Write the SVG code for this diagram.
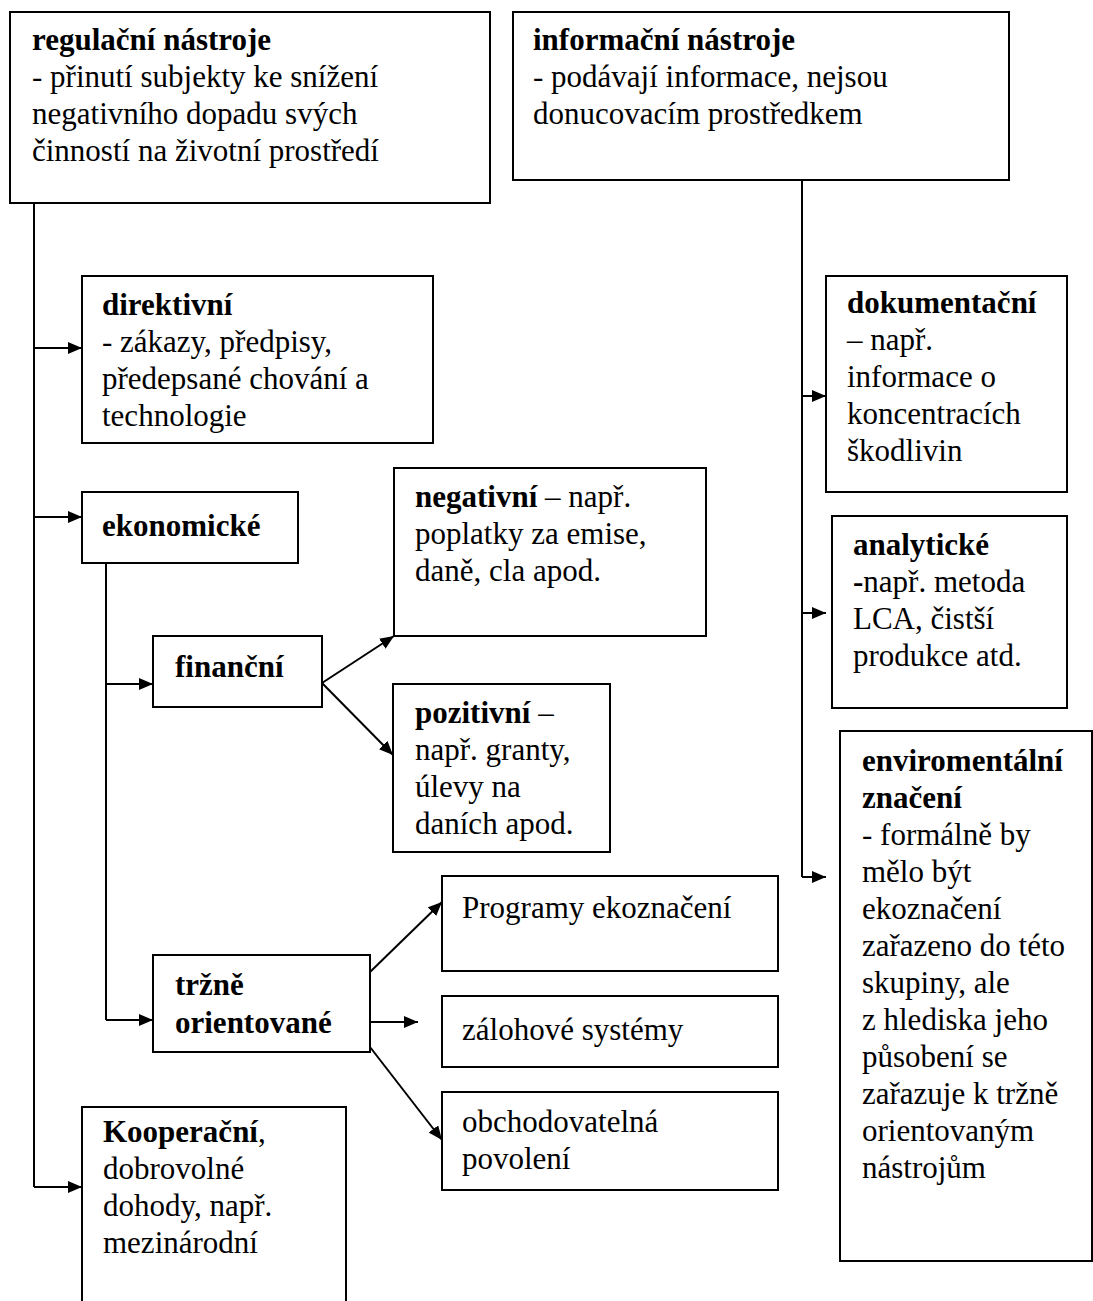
<svg xmlns="http://www.w3.org/2000/svg" width="1093" height="1301" viewBox="0 0 1093 1301">
<style>
.box{fill:#fff;stroke:#000;stroke-width:2}
.t{font-family:"Liberation Serif","Times New Roman",serif;font-size:31px;fill:#000}
.b{font-weight:bold}
.c{fill:none;stroke:#000;stroke-width:2}
</style>
<defs>
<marker id="ah" markerWidth="14" markerHeight="12" refX="14" refY="6" orient="auto" markerUnits="userSpaceOnUse"><path d="M0,0 L14,6 L0,12 z" fill="#000"/></marker>
</defs>
<rect width="1093" height="1301" fill="#fff"/>
<g id="connectors">
<path class="c" d="M34,203 V1187"/>
<path class="c" d="M34,348 H82" marker-end="url(#ah)"/>
<path class="c" d="M34,517 H82" marker-end="url(#ah)"/>
<path class="c" d="M34,1187 H82" marker-end="url(#ah)"/>
<path class="c" d="M106,563 V1020"/>
<path class="c" d="M106,684 H153" marker-end="url(#ah)"/>
<path class="c" d="M106,1020 H153" marker-end="url(#ah)"/>
<path class="c" d="M322,683 L394,636" marker-end="url(#ah)"/>
<path class="c" d="M322,683 L393,755" marker-end="url(#ah)"/>
<path class="c" d="M370,972 L442,902" marker-end="url(#ah)"/>
<path class="c" d="M370,1022 H418" marker-end="url(#ah)"/>
<path class="c" d="M370,1047 L442,1140" marker-end="url(#ah)"/>
<path class="c" d="M802,180 V877"/>
<path class="c" d="M802,396 H826" marker-end="url(#ah)"/>
<path class="c" d="M802,613 H826" marker-end="url(#ah)"/>
<path class="c" d="M802,877 H826" marker-end="url(#ah)"/>
</g>
<g id="regulacni">
<rect class="box" x="10" y="12" width="480" height="191"/>
<text class="t" x="32"><tspan class="b" y="50">regulační nástroje</tspan><tspan x="32" y="87">- přinutí subjekty ke snížení</tspan><tspan x="32" y="124">negativního dopadu svých</tspan><tspan x="32" y="161">činností na životní prostředí</tspan></text>
</g>
<g id="informacni">
<rect class="box" x="513" y="12" width="496" height="168"/>
<text class="t" x="533"><tspan class="b" y="50">informační nástroje</tspan><tspan x="533" y="87">- podávají informace, nejsou</tspan><tspan x="533" y="124">donucovacím prostředkem</tspan></text>
</g>
<g id="direktivni">
<rect class="box" x="82" y="276" width="351" height="167"/>
<text class="t" x="102"><tspan class="b" y="315">direktivní</tspan><tspan x="102" y="352">- zákazy, předpisy,</tspan><tspan x="102" y="389">předepsané chování a</tspan><tspan x="102" y="426">technologie</tspan></text>
</g>
<g id="ekonomicke">
<rect class="box" x="82" y="492" width="216" height="71"/>
<text class="t b" x="102" y="536">ekonomické</text>
</g>
<g id="financni">
<rect class="box" x="153" y="636" width="169" height="71"/>
<text class="t b" x="175" y="677">finanční</text>
</g>
<g id="negativni">
<rect class="box" x="394" y="468" width="312" height="168"/>
<text class="t" x="415"><tspan y="507"><tspan class="b">negativní</tspan> – např.</tspan><tspan x="415" y="544">poplatky za emise,</tspan><tspan x="415" y="581">daně, cla apod.</tspan></text>
</g>
<g id="pozitivni">
<rect class="box" x="393" y="684" width="217" height="168"/>
<text class="t" x="415"><tspan y="723"><tspan class="b">pozitivní</tspan> –</tspan><tspan x="415" y="760">např. granty,</tspan><tspan x="415" y="797">úlevy na</tspan><tspan x="415" y="834">daních apod.</tspan></text>
</g>
<g id="trzne">
<rect class="box" x="153" y="955" width="217" height="97"/>
<text class="t b" x="175"><tspan y="995">tržně</tspan><tspan x="175" y="1033">orientované</tspan></text>
</g>
<g id="programy">
<rect class="box" x="442" y="876" width="336" height="95"/>
<text class="t" x="462" y="918">Programy ekoznačení</text>
</g>
<g id="zalohove">
<rect class="box" x="442" y="996" width="336" height="71"/>
<text class="t" x="462" y="1040">zálohové systémy</text>
</g>
<g id="obchodovatelna">
<rect class="box" x="442" y="1092" width="336" height="98"/>
<text class="t" x="462"><tspan y="1132">obchodovatelná</tspan><tspan x="462" y="1169">povolení</tspan></text>
</g>
<g id="kooperacni">
<rect class="box" x="82" y="1107" width="264" height="210"/>
<text class="t" x="103"><tspan y="1142"><tspan class="b">Kooperační</tspan>,</tspan><tspan x="103" y="1179">dobrovolné</tspan><tspan x="103" y="1216">dohody, např.</tspan><tspan x="103" y="1253">mezinárodní</tspan></text>
</g>
<g id="dokumentacni">
<rect class="box" x="826" y="276" width="241" height="216"/>
<text class="t" x="847"><tspan class="b" y="313">dokumentační</tspan><tspan x="847" y="350">– např.</tspan><tspan x="847" y="387">informace o</tspan><tspan x="847" y="424">koncentracích</tspan><tspan x="847" y="461">škodlivin</tspan></text>
</g>
<g id="analyticke">
<rect class="box" x="832" y="516" width="235" height="192"/>
<text class="t" x="853"><tspan class="b" y="555">analytické</tspan><tspan x="853" y="592"><tspan class="b">-</tspan>např. metoda</tspan><tspan x="853" y="629">LCA, čistší</tspan><tspan x="853" y="666">produkce atd.</tspan></text>
</g>
<g id="enviromentalni">
<rect class="box" x="840" y="731" width="252" height="530"/>
<text class="t" x="862"><tspan class="b" y="771">enviromentální</tspan><tspan class="b" x="862" y="808">značení</tspan><tspan x="862" y="845">- formálně by</tspan><tspan x="862" y="882">mělo být</tspan><tspan x="862" y="919">ekoznačení</tspan><tspan x="862" y="956">zařazeno do této</tspan><tspan x="862" y="993">skupiny, ale</tspan><tspan x="862" y="1030">z hlediska jeho</tspan><tspan x="862" y="1067">působení se</tspan><tspan x="862" y="1104">zařazuje k tržně</tspan><tspan x="862" y="1141">orientovaným</tspan><tspan x="862" y="1178">nástrojům</tspan></text>
</g>
</svg>
